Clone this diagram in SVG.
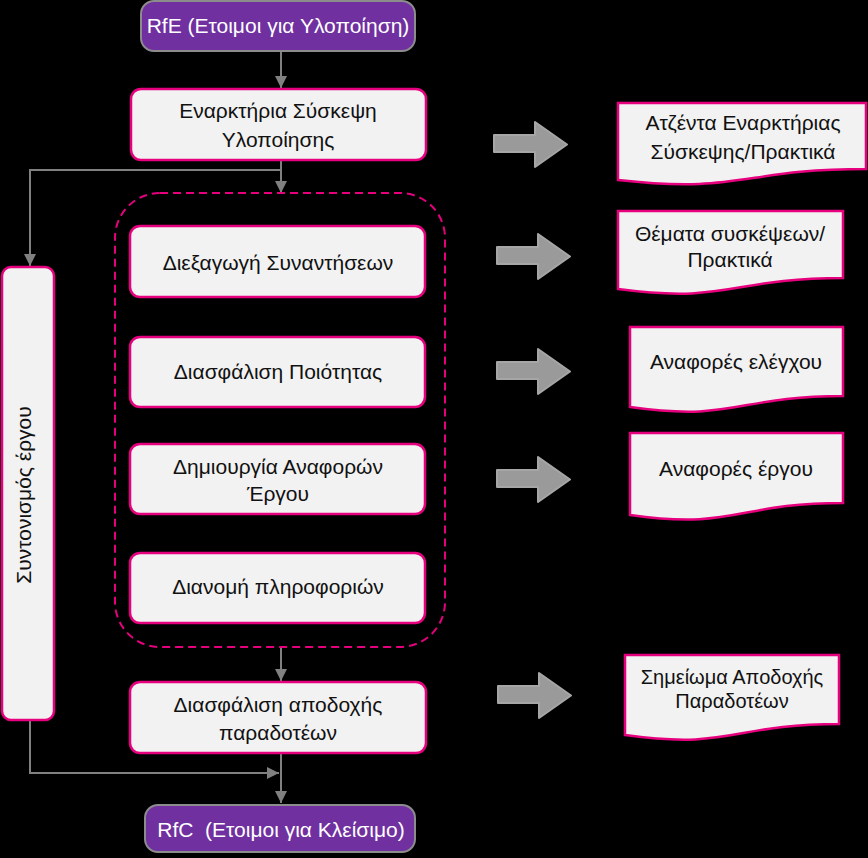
<svg xmlns="http://www.w3.org/2000/svg" width="868" height="858" viewBox="0 0 868 858">
<defs>
<style>
.bg{fill:#000}
.term{fill:#7030A0;stroke:#8C8C8C;stroke-width:2}
.box{fill:#F2F2F2;stroke:#E6007E;stroke-width:2.5}
.doc{fill:#F2F2F2;stroke:#E6007E;stroke-width:2.5}
.grp{fill:none;stroke:#E6007E;stroke-width:2;stroke-dasharray:8 5}
.con{fill:none;stroke:#808080;stroke-width:2}
.barrow{fill:#9A9A9A;stroke:#A6A6A6;stroke-width:2;stroke-linejoin:round}
text{font-family:"Liberation Sans","DejaVu Sans",sans-serif;font-size:21px;fill:#111;text-anchor:middle}
.wt{fill:#fff}
.sm{font-size:20px}
</style>
<marker id="ah" markerUnits="userSpaceOnUse" markerWidth="14" markerHeight="12" refX="12" refY="6" orient="auto">
<path d="M0,0 L12,6 L0,12 Z" fill="#808080"/>
</marker>
<path id="ba" d="M0,13 H41 V0 L73,22.5 L41,45 V30 H0 Z"/>
</defs>
<rect class="bg" x="0" y="0" width="868" height="858"/>

<g id="connectors">
<line class="con" x1="281" y1="52" x2="281" y2="88" marker-end="url(#ah)"/>
<line class="con" x1="281" y1="160" x2="281" y2="193" marker-end="url(#ah)"/>
<polyline class="con" points="281,170 30,170 30,266" marker-end="url(#ah)"/>
<line class="con" x1="281" y1="648" x2="281" y2="681" marker-end="url(#ah)"/>
<line class="con" x1="281" y1="753" x2="281" y2="803" marker-end="url(#ah)"/>
<polyline class="con" points="30,721 30,773 279,773" marker-end="url(#ah)"/>
</g>

<g id="group-execution">
<rect class="grp" x="115" y="193" width="330" height="454" rx="45"/>
</g>

<g id="rfe">
<rect class="term" x="141" y="1" width="274" height="50" rx="13"/>
<text class="wt" x="278" y="33">RfE (Ετοιμοι για Υλοποίηση)</text>
</g>

<g id="kickoff">
<rect class="box" x="131" y="89" width="295" height="71" rx="10"/>
<text x="278" y="118">Εναρκτήρια Σύσκεψη</text>
<text x="278" y="147">Υλοποίησης</text>
</g>

<g id="coordination">
<rect class="box" x="2" y="267" width="52" height="453" rx="9"/>
<text transform="translate(31,495) rotate(-90)">Συντονισμός έργου</text>
</g>

<g id="meetings">
<rect class="box" x="130" y="226" width="295" height="71" rx="10"/>
<text x="278" y="270">Διεξαγωγή Συναντήσεων</text>
</g>

<g id="quality">
<rect class="box" x="130" y="337" width="295" height="70" rx="10"/>
<text x="278" y="379">Διασφάλιση Ποιότητας</text>
</g>

<g id="reports">
<rect class="box" x="130" y="444" width="295" height="70" rx="10"/>
<text x="278" y="474">Δημιουργία Αναφορών</text>
<text x="278" y="501">Έργου</text>
</g>

<g id="distribution">
<rect class="box" x="130" y="553" width="295" height="70" rx="10"/>
<text x="278" y="594">Διανομή πληροφοριών</text>
</g>

<g id="acceptance">
<rect class="box" x="130" y="682" width="296" height="71" rx="10"/>
<text x="278" y="712">Διασφάλιση αποδοχής</text>
<text x="278" y="740">παραδοτέων</text>
</g>

<g id="rfc">
<rect class="term" x="145" y="805" width="270" height="47" rx="13"/>
<text class="wt" x="281" y="837">RfC&#160; (Ετοιμοι για Κλείσιμο)</text>
</g>

<g id="output-arrows">
<use href="#ba" class="barrow" x="494" y="122"/>
<use href="#ba" class="barrow" x="497" y="234"/>
<use href="#ba" class="barrow" x="497" y="349"/>
<use href="#ba" class="barrow" x="497" y="457"/>
<use href="#ba" class="barrow" x="498" y="673"/>
</g>

<g id="doc-agenda">
<path class="doc" d="M618,103 H866 V169 C742,169 742,194 618,180 Z"/>
<text x="743" y="130">Ατζέντα Εναρκτήριας</text>
<text x="743" y="159">Σύσκεψης/Πρακτικά</text>
</g>

<g id="doc-meetings">
<path class="doc" d="M618,211 H843 V278 C730,278 730,304 618,289 Z"/>
<text x="730" y="241">Θέματα συσκέψεων/</text>
<text x="730" y="267">Πρακτικά</text>
</g>

<g id="doc-control">
<path class="doc" d="M630,327 H843 V396 C736,396 736,422 630,407 Z"/>
<text x="736" y="369">Αναφορές ελέγχου</text>
</g>

<g id="doc-reports">
<path class="doc" d="M630,433 H843 V503 C736,503 736,530 630,515 Z"/>
<text x="736" y="476">Αναφορές έργου</text>
</g>

<g id="doc-acceptance">
<path class="doc" d="M625,655 H839 V724 C732,724 732,750 625,735 Z"/>
<text class="sm" x="732" y="684">Σημείωμα Αποδοχής</text>
<text class="sm" x="732" y="708">Παραδοτέων</text>
</g>
</svg>
